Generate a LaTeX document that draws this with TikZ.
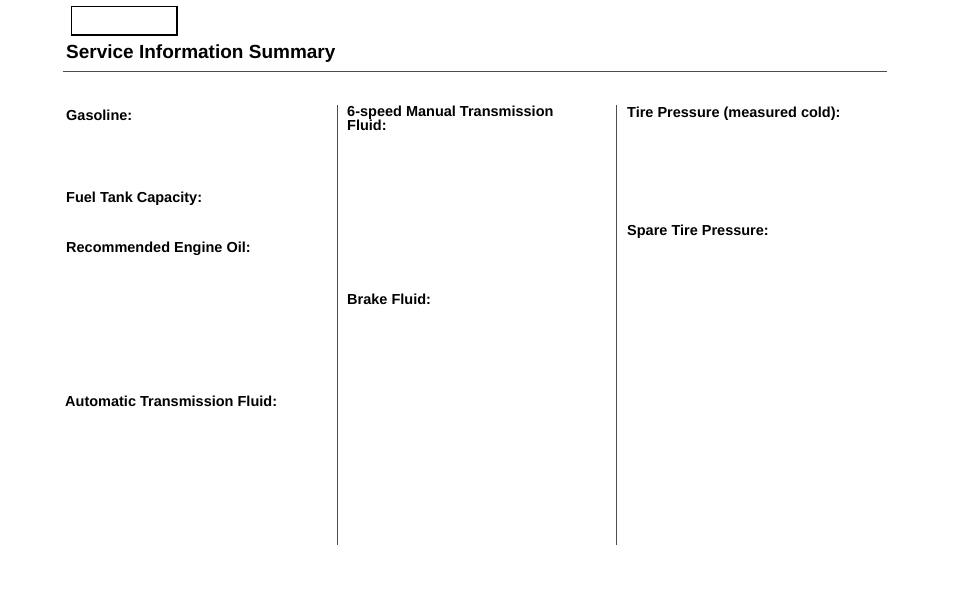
\documentclass[tikz,border=0pt]{standalone}
\usepackage{fontspec}
\setmainfont{Liberation Sans}
\begin{document}
\begin{tikzpicture}[x=1pt,y=-1pt,
  lbl/.style={anchor=west,inner sep=0pt,font=\fontsize{14.5}{16}\selectfont\bfseries,align=left},
  ttl/.style={anchor=west,inner sep=0pt,font=\fontsize{19}{20}\selectfont\bfseries},
  rule/.style={draw=black!70,line width=0.8pt}]
\useasboundingbox (0,0) rectangle (954,614);
\node[draw,line width=0.6pt,minimum width=105pt,minimum height=28pt,anchor=north west,inner sep=0pt] (box) at (71,6) {};
\draw[line width=2.2pt] (box.north east) -- (box.south east) -- (box.south west);
\node[ttl] (title) at (66,54) {Service Information Summary};
\coordinate (hl) at (63,71); \coordinate (hr) at (887,71);
\draw[rule] (hl) -- (hr);
\coordinate (v1t) at (337,105); \coordinate (v1b) at (337,545);
\coordinate (v2t) at (616,105); \coordinate (v2b) at (616,545);
\draw[rule] (v1t) -- (v1b);
\draw[rule] (v2t) -- (v2b);
\node[lbl] (gas) at (66,115) {Gasoline:};
\node[lbl] (fuel) at (66,199) {Fuel Tank Capacity:};
\node[lbl] (oil) at (66,249) {Recommended Engine Oil:};
\node[lbl] (atf) at (65,401) {Automatic Transmission Fluid:};
\node[lbl,anchor=north west] (mtf) at (347,106) {6-speed Manual Transmission\\[-2pt]Fluid:};
\node[lbl] (brake) at (347,299) {Brake Fluid:};
\node[lbl] (tire) at (627,114) {Tire Pressure (measured cold):};
\node[lbl] (spare) at (627,232) {Spare Tire Pressure:};
\end{tikzpicture}
\end{document}
